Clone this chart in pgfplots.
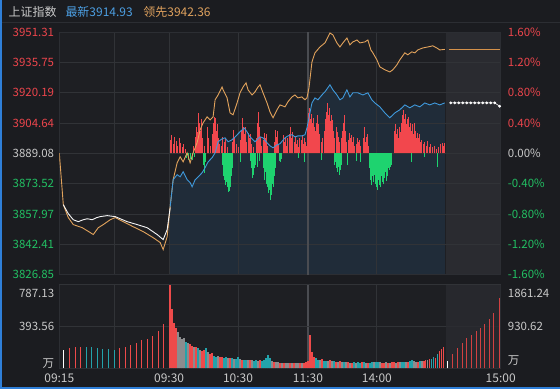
\documentclass[border=0pt]{standalone}
\usepackage{pgfplots}
\pgfplotsset{compat=1.18}
\usepackage{fontspec}
\setmainfont{Noto Sans CJK SC}
\definecolor{bg}{HTML}{1B1C20}
\definecolor{panel}{HTML}{1E1F23}
\definecolor{shade}{HTML}{2A2B30}
\definecolor{gridc}{HTML}{313337}
\definecolor{frame}{HTML}{2C2E33}
\definecolor{sep}{HTML}{4A4C51}
\definecolor{upred}{HTML}{EC454C}
\definecolor{dngreen}{HTML}{22C063}
\definecolor{barred}{HTML}{F2474D}
\definecolor{bargreen}{HTML}{1ED36F}
\definecolor{volred}{HTML}{EE4A4A}
\definecolor{volteal}{HTML}{23A3AB}
\definecolor{volgrey}{HTML}{8C8C8E}
\definecolor{txt}{HTML}{C9C9C9}
\definecolor{lineor}{HTML}{E2A35C}
\definecolor{flator}{HTML}{D4914A}
\definecolor{lineblue}{HTML}{3F99DB}
\definecolor{hdrblue}{HTML}{4C9FE3}
\definecolor{hdror}{HTML}{E0A25E}
\definecolor{bord}{HTML}{2F7FD8}
\definecolor{areafill}{HTML}{24405C}
\pgfplotsset{base/.style={scale only axis, width=442bp, anchor=south west,
  xmin=59, xmax=501, major tick length=0pt,
  axis line style={draw=frame, line width=0.8bp},
  ticklabel style={font=\fontsize{11.5bp}{13bp}\selectfont, text=txt, inner sep=0pt},
  major grid style={draw=gridc, line width=0.8bp}}}
\begin{document}
\begin{tikzpicture}
\fill[bg] (0bp,0bp) rectangle (560bp,390bp);
\draw[frame, line width=0.8bp] (0bp,367.5bp) -- (560bp,367.5bp);
\node[anchor=base west, inner sep=0pt, text=txt, font=\fontsize{12bp}{14bp}\selectfont] at (8bp,373bp) {上证指数};
\node[anchor=base west, inner sep=0pt, text=hdrblue, font=\fontsize{12bp}{14bp}\selectfont] at (65bp,373bp) {最新3914.93};
\node[anchor=base west, inner sep=0pt, text=hdror, font=\fontsize{12bp}{14bp}\selectfont] at (143bp,373bp) {领先3942.36};

% ---------- upper panel: price axis with grid and fills
\begin{axis}[base, at={(59bp,115bp)}, height=243bp, ymin=3826.85, ymax=3951.31,
  axis background/.style={fill=panel}, axis on top,
  xtick={114,169,238,377}, xticklabels={\relax,\relax,\relax,\relax},
  extra x ticks={308}, extra x tick labels={\relax}, extra x tick style={xmajorgrids=true, major grid style={draw=sep, line width=1.6bp}},
  ytick={3826.85,3842.41,3857.97,3873.52,3889.08,3904.64,3920.19,3935.75,3951.31},
  yticklabels={\textcolor{dngreen}{3826.85},\textcolor{dngreen}{3842.41},\textcolor{dngreen}{3857.97},\textcolor{dngreen}{3873.52},\textcolor{txt}{3889.08},\textcolor{upred}{3904.64},\textcolor{upred}{3920.19},\textcolor{upred}{3935.75},\textcolor{upred}{3951.31}},
  yticklabel style={anchor=east, xshift=-5bp},
  xmajorgrids, ymajorgrids]
\addplot[draw=none, fill=shade] coordinates {(446,3826.85) (501,3826.85) (501,3951.31) (446,3951.31)} -- cycle;
\addplot[draw=none, fill=areafill, fill opacity=0.4] coordinates {(170,3826.85) (170,3861.7) (173,3875.5) (177,3878.1) (180,3877.0) (183,3879.6) (187,3875.5) (190,3874.0) (192,3871.9) (195,3875.5) (198,3877.0) (202,3879.1) (205,3881.7) (208,3884.7) (212,3886.8) (215,3889.3) (218,3895.0) (222,3896.5) (225,3897.0) (228,3895.0) (232,3896.0) (235,3897.5) (240,3900.1) (244,3902.1) (247,3900.1) (250,3897.5) (255,3895.0) (260,3897.5) (263,3897.0) (267,3894.5) (270,3892.9) (273,3891.9) (277,3893.4) (280,3894.0) (285,3897.0) (288,3898.0) (292,3898.6) (295,3897.5) (298,3898.0) (302,3898.0) (305,3898.6) (307,3902.1) (309,3907.3) (312,3914.9) (315,3917.5) (318,3916.5) (322,3919.0) (325,3920.6) (330,3924.2) (333,3921.6) (337,3919.0) (340,3916.5) (343,3917.5) (347,3921.6) (350,3918.0) (353,3920.1) (358,3920.1) (363,3919.0) (368,3920.1) (372,3916.5) (375,3914.9) (380,3912.9) (385,3909.8) (390,3907.3) (395,3909.8) (400,3911.4) (405,3913.9) (410,3912.4) (415,3913.9) (420,3912.9) (425,3914.9) (430,3913.9) (435,3914.9) (440,3913.9) (445,3914.93) (445,3826.85)} -- cycle;
\end{axis}

% ---------- upper panel: percentage axis with strength bars
\begin{axis}[base, at={(59bp,115bp)}, height=243bp, ymin=-1.6, ymax=1.6,
  axis line style={draw=none}, xtick=\empty,
  ytick={-1.6,-1.2,-0.8,-0.4,0,0.4,0.8,1.2,1.6},
  yticklabels={\textcolor{dngreen}{-1.60\%},\textcolor{dngreen}{-1.20\%},\textcolor{dngreen}{-0.80\%},\textcolor{dngreen}{-0.40\%},\textcolor{txt}{0.00\%},\textcolor{upred}{0.40\%},\textcolor{upred}{0.80\%},\textcolor{upred}{1.20\%},\textcolor{upred}{1.60\%}},
  yticklabel pos=right, yticklabel style={anchor=west, xshift=7bp}]
\addplot[ycomb, draw=barred, line width=1bp] coordinates {
(170,0.18) (171,0.24) (173,0.12) (174,0.22) (176,0.16) (177,0.10) (179,0.20) (180,0.14) (182,0.08) (183,0.12) (185,0.05)
(193,0.10) (195,0.22) (196,0.35) (197,0.28) (198,0.53) (199,0.40) (200,0.30) (201,0.45) (202,0.20) (204,0.10)
(207,0.35) (208,0.20) (210,0.10) (212,0.25) (213,0.40) (214,0.48) (215,0.46) (216,0.30) (217,0.38) (218,0.20) (219,0.12)
(221,0.10) (222,0.22) (224,0.15) (225,0.20) (227,0.08)
(232,0.15) (233,0.31) (234,0.22) (236,0.12) (238,0.08)
(240,0.18) (241,0.30) (242,0.47) (243,0.35) (244,0.25) (245,0.34) (246,0.15)
(248,0.27) (249,0.20) (250,0.25) (251,0.12) (253,0.08)
(256,0.20) (257,0.40) (258,0.55) (259,0.35) (260,0.22) (261,0.10)
(263,0.18) (264,0.27) (265,0.20) (266,0.25) (267,0.10)
(274,0.15) (275,0.31) (276,0.22) (277,0.30) (278,0.12)
(283,0.18) (284,0.24) (285,0.15) (286,0.22) (287,0.10) (288,0.20)
(290,0.25) (291,0.34) (292,0.20) (293,0.28)
(295,0.15) (296,0.22) (297,0.12) (298,0.18) (299,0.08) (300,0.20)
(302,0.18) (303,0.24) (304,0.12) (305,0.20) (306,0.15) (307,0.10)
(308,0.35) (309,0.53) (310,0.60) (311,0.45) (312,0.52) (313,0.40) (314,0.47) (315,0.35) (316,0.30) (317,0.40) (318,0.51) (319,0.38) (320,0.25)
(322,0.15) (323,0.20) (325,0.30) (326,0.45) (327,0.55) (328,0.66) (329,0.50) (330,0.60) (331,0.42) (332,0.50) (333,0.44) (334,0.30) (335,0.20)
(337,0.35) (338,0.28) (339,0.22) (340,0.15) (342,0.20) (343,0.30) (344,0.40) (345,0.51) (346,0.30) (347,0.15)
(349,0.18) (350,0.27) (351,0.20) (352,0.24) (353,0.15) (354,0.22) (355,0.10)
(357,0.12) (358,0.20) (359,0.15) (360,0.18) (361,0.10)
(364,0.20) (365,0.34) (366,0.15) (367,0.22) (368,0.25) (369,0.10)
(395,0.30) (396,0.38) (397,0.25) (398,0.32) (399,0.20) (400,0.35) (401,0.28)
(402,0.40) (403,0.50) (404,0.57) (405,0.45) (406,0.52) (407,0.38)
(408,0.45) (409,0.48) (410,0.35) (411,0.40) (412,0.30)
(413,0.38) (414,0.25) (415,0.40) (416,0.30) (417,0.20)
(418,0.27) (419,0.20) (420,0.25) (421,0.15) (422,0.18)
(424,0.12) (425,0.15) (427,0.10) (428,0.16) (430,0.08) (431,0.12)
(433,0.08) (435,0.09) (437,0.05) (439,0.08) (441,0.12) (443,0.14) (444,0.10) (445,0.14)};
\addplot[ycomb, draw=bargreen, line width=1bp] coordinates {
(186,-0.06) (188,-0.09) (190,-0.07) (192,-0.09) (194,-0.05)
(203,-0.15) (204,-0.26) (205,-0.12)
(222,-0.15) (223,-0.30) (224,-0.35) (225,-0.42) (226,-0.38) (227,-0.45) (228,-0.51) (229,-0.50) (230,-0.44) (231,-0.30) (232,-0.20)
(240,-0.12)
(250,-0.10) (251,-0.19) (252,-0.32) (253,-0.28) (254,-0.20) (255,-0.15) (257,-0.18) (259,-0.10)
(263,-0.20) (264,-0.35) (265,-0.25) (266,-0.40) (267,-0.45) (268,-0.52) (269,-0.48) (270,-0.61) (271,-0.55) (272,-0.40) (273,-0.45) (274,-0.30) (275,-0.20)
(279,-0.10) (280,-0.11) (281,-0.08)
(299,-0.06) (305,-0.12)
(322,-0.09)
(335,-0.15) (336,-0.12) (337,-0.20) (338,-0.25) (339,-0.18) (340,-0.28) (341,-0.22) (342,-0.15)
(348,-0.15)
(357,-0.10) (361,-0.11)
(370,-0.20) (371,-0.35) (372,-0.42) (373,-0.30) (374,-0.38) (375,-0.28) (376,-0.40) (377,-0.45) (378,-0.48) (379,-0.35) (380,-0.42) (381,-0.44) (382,-0.30) (383,-0.38) (384,-0.40) (385,-0.32) (386,-0.25) (387,-0.36) (388,-0.30) (389,-0.20) (390,-0.22) (391,-0.18) (392,-0.15)
(412,-0.11) (425,-0.05) (438,-0.18)};
\end{axis}

% ---------- upper panel: price lines
\begin{axis}[base, at={(59bp,115bp)}, height=243bp, ymin=3826.85, ymax=3951.31, hide axis]
\addplot[lineor, line width=0.9bp] coordinates {(59,3889.1) (63,3862.7) (68,3856.1) (73,3852.5) (82,3850.9) (90,3848.4) (93,3847.4) (98,3850.9) (103,3852.5) (110,3855.0) (115,3856.1) (123,3854.0) (133,3851.4) (143,3848.9) (153,3845.8) (160,3843.3) (163,3839.7) (167,3846.3) (170,3861.7) (173,3875.5) (177,3884.2) (180,3887.3) (183,3884.7) (187,3889.3) (190,3884.2) (193,3889.3) (197,3894.5) (200,3901.1) (203,3904.7) (207,3907.8) (210,3906.2) (213,3907.8) (215,3916.5) (218,3919.0) (222,3923.1) (223,3921.6) (227,3917.5) (230,3909.8) (233,3908.8) (237,3914.9) (240,3920.1) (243,3923.1) (246,3925.2) (248,3921.6) (252,3919.0) (255,3920.6) (258,3923.1) (260,3924.2) (263,3920.1) (267,3914.9) (270,3910.3) (273,3907.3) (277,3911.4) (280,3913.9) (285,3912.9) (288,3915.5) (292,3918.0) (295,3919.0) (298,3917.5) (302,3918.0) (305,3916.5) (307,3917.5) (309,3922.6) (312,3935.9) (315,3940.6) (320,3943.6) (325,3945.7) (330,3950.8) (333,3949.8) (337,3945.7) (340,3943.6) (343,3945.7) (347,3948.2) (350,3944.7) (353,3946.2) (357,3947.2) (360,3945.7) (365,3946.2) (368,3947.2) (371,3942.1) (373,3940.6) (377,3937.0) (380,3933.4) (385,3931.9) (390,3930.8) (393,3931.9) (397,3934.4) (400,3937.0) (405,3940.6) (408,3939.6) (412,3941.1) (415,3940.6) (418,3942.1) (423,3943.1) (428,3943.6) (433,3944.2) (437,3943.1) (440,3942.1) (445,3942.36)};
\addplot[white!92!gray, line width=0.9bp] coordinates {(63,3862.7) (68,3858.1) (73,3855.0) (78,3854.0) (83,3855.0) (87,3855.5) (92,3855.0) (96,3856.0) (100,3856.6) (107,3857.1) (115,3856.6) (120,3855.5) (127,3854.0) (137,3852.5) (147,3850.9) (157,3847.4) (163,3844.8) (167,3849.9) (170,3861.2)};
\addplot[lineblue, line width=0.9bp] coordinates {(170,3861.7) (173,3875.5) (177,3878.1) (180,3877.0) (183,3879.6) (187,3875.5) (190,3874.0) (192,3871.9) (195,3875.5) (198,3877.0) (202,3879.1) (205,3881.7) (208,3884.7) (212,3886.8) (215,3889.3) (218,3895.0) (222,3896.5) (225,3897.0) (228,3895.0) (232,3896.0) (235,3897.5) (240,3900.1) (244,3902.1) (247,3900.1) (250,3897.5) (255,3895.0) (260,3897.5) (263,3897.0) (267,3894.5) (270,3892.9) (273,3891.9) (277,3893.4) (280,3894.0) (285,3897.0) (288,3898.0) (292,3898.6) (295,3897.5) (298,3898.0) (302,3898.0) (305,3898.6) (307,3902.1) (309,3907.3) (312,3914.9) (315,3917.5) (318,3916.5) (322,3919.0) (325,3920.6) (330,3924.2) (333,3921.6) (337,3919.0) (340,3916.5) (343,3917.5) (347,3921.6) (350,3918.0) (353,3920.1) (358,3920.1) (363,3919.0) (368,3920.1) (372,3916.5) (375,3914.9) (380,3912.9) (385,3909.8) (390,3907.3) (395,3909.8) (400,3911.4) (405,3913.9) (410,3912.4) (415,3913.9) (420,3912.9) (425,3914.9) (430,3913.9) (435,3914.9) (440,3913.9) (445,3914.93)};
\addplot[color=flator, line width=1.2bp] coordinates {(449,3942.36) (500,3942.36)};
\addplot[white, line width=0.6bp, mark=*, mark size=1.1bp, mark options={fill=white, draw=white}] coordinates {(451,3914.93) (455,3914.93) (459,3914.93) (463,3914.93) (467,3914.93) (471,3914.93) (475,3914.93) (479,3914.93) (483,3914.93) (487,3914.93) (491,3914.93) (495,3914.93) (500,3913.2)};
\end{axis}

% ---------- volume panel, left scale
\begin{axis}[base, at={(59bp,21bp)}, height=84bp, ymin=0, ymax=787.13,
  axis background/.style={fill=panel},
  xtick={59,114,169,238,308,377,501}, xticklabels={09:15,\relax,09:30,10:30,11:30,14:00,15:00},
  xticklabel style={anchor=north, yshift=-5bp, font=\fontsize{12bp}{14bp}\selectfont},
  xmajorgrids,
  extra x ticks={308}, extra x tick labels={\relax}, extra x tick style={xmajorgrids=true, major grid style={draw=sep, line width=1.6bp}},
  ytick={50,393.56,703}, yticklabels={万,393.56,787.13},
  yticklabel style={anchor=east, xshift=-5bp},
  extra y ticks={393.56,787.13}, extra y tick labels={\relax,\relax}, extra y tick style={grid=major}]
\addplot[draw=none, fill=shade, fill opacity=0.8] coordinates {(446,0) (501,0) (501,787.13) (446,787.13)} -- cycle;
\addplot[ycomb, draw=white, line width=1.2bp] coordinates {(63,172) (169,288)};
\addplot[ycomb, draw=volred, line width=1.2bp] coordinates {(69,194) (75,200) (80,206) (119,190) (125,206) (130,216) (136,241) (141,265) (147,281) (152,303) (158,353) (163,415)};
\addplot[ycomb, draw=volteal, line width=1.2bp] coordinates {(86,200) (91,197) (97,194) (102,187) (108,185) (114,175)};
\addplot[ycomb, draw=volred, line width=1.4bp] coordinates {(170,787) (172,560) (174,430) (176,380) (190,230) (192,215) (196,205) (202,160) (204,175) (210,140) (212,145) (220,110) (222,105) (230,100) (242,80) (250,80) (260,75) (274,62) (280,55) (284,54) (290,50) (294,50) (300,50) (304,55) (306,60) (308,70) (310,310) (312,150) (314,110) (322,85) (330,80) (336,65) (340,68) (348,60) (352,55) (362,58) (368,52) (382,55) (384,56) (388,52) (392,58) (394,60) (398,62) (408,62) (418,65) (424,70) (426,76) (430,85) (436,100) (440,160) (442,180) (444,206)};
\addplot[ycomb, draw=volteal, line width=1.4bp] coordinates {(186,250) (198,190) (206,190) (214,120) (216,110) (224,100) (226,108) (232,95) (236,92) (238,105) (244,78) (246,82) (254,72) (256,78) (262,70) (264,80) (266,95) (268,125) (270,100) (316,95) (318,80) (324,70) (326,72) (334,70) (344,64) (354,58) (358,60) (360,55) (364,62) (370,55) (372,58) (376,65) (378,60) (402,60) (404,64) (410,66) (412,80) (420,68) (432,90) (434,110) (438,140)};
\addplot[ycomb, draw=volgrey, line width=1.4bp] coordinates {(178,340) (180,300) (182,280) (184,290) (188,240) (194,200) (200,170) (208,150) (218,115) (228,95) (234,90) (240,85) (248,75) (252,76) (258,70) (272,70) (276,60) (278,58) (282,56) (286,52) (288,55) (292,53) (296,52) (298,48) (302,52) (320,75) (328,68) (332,66) (338,62) (342,60) (346,58) (350,56) (356,54) (366,55) (374,62) (380,58) (386,60) (390,55) (396,56) (400,58) (406,58) (414,70) (416,62) (422,72) (428,80)};
\end{axis}

% ---------- volume panel, right scale
\begin{axis}[base, at={(59bp,21bp)}, height=84bp, ymin=0, ymax=1861.24,
  axis line style={draw=none}, xtick=\empty,
  ytick={177,930.62,1662}, yticklabels={万,930.62,1861.24},
  yticklabel pos=right, yticklabel style={anchor=west, xshift=7bp}]
\addplot[ycomb, draw=white, line width=1.1bp] coordinates {(448,155)};
\addplot[ycomb, draw=volred!88!black, line width=1.1bp] coordinates {(453,332) (458,465) (463,576) (467,687) (472,753) (477,842) (481,909) (485,997) (490,1108) (494,1241) (500,1573)};
\end{axis}

\fill[bord] (0bp,0bp) rectangle (1.5bp,390bp);
\fill[bord] (0bp,0bp) rectangle (560bp,2bp);
\end{tikzpicture}
\end{document}
